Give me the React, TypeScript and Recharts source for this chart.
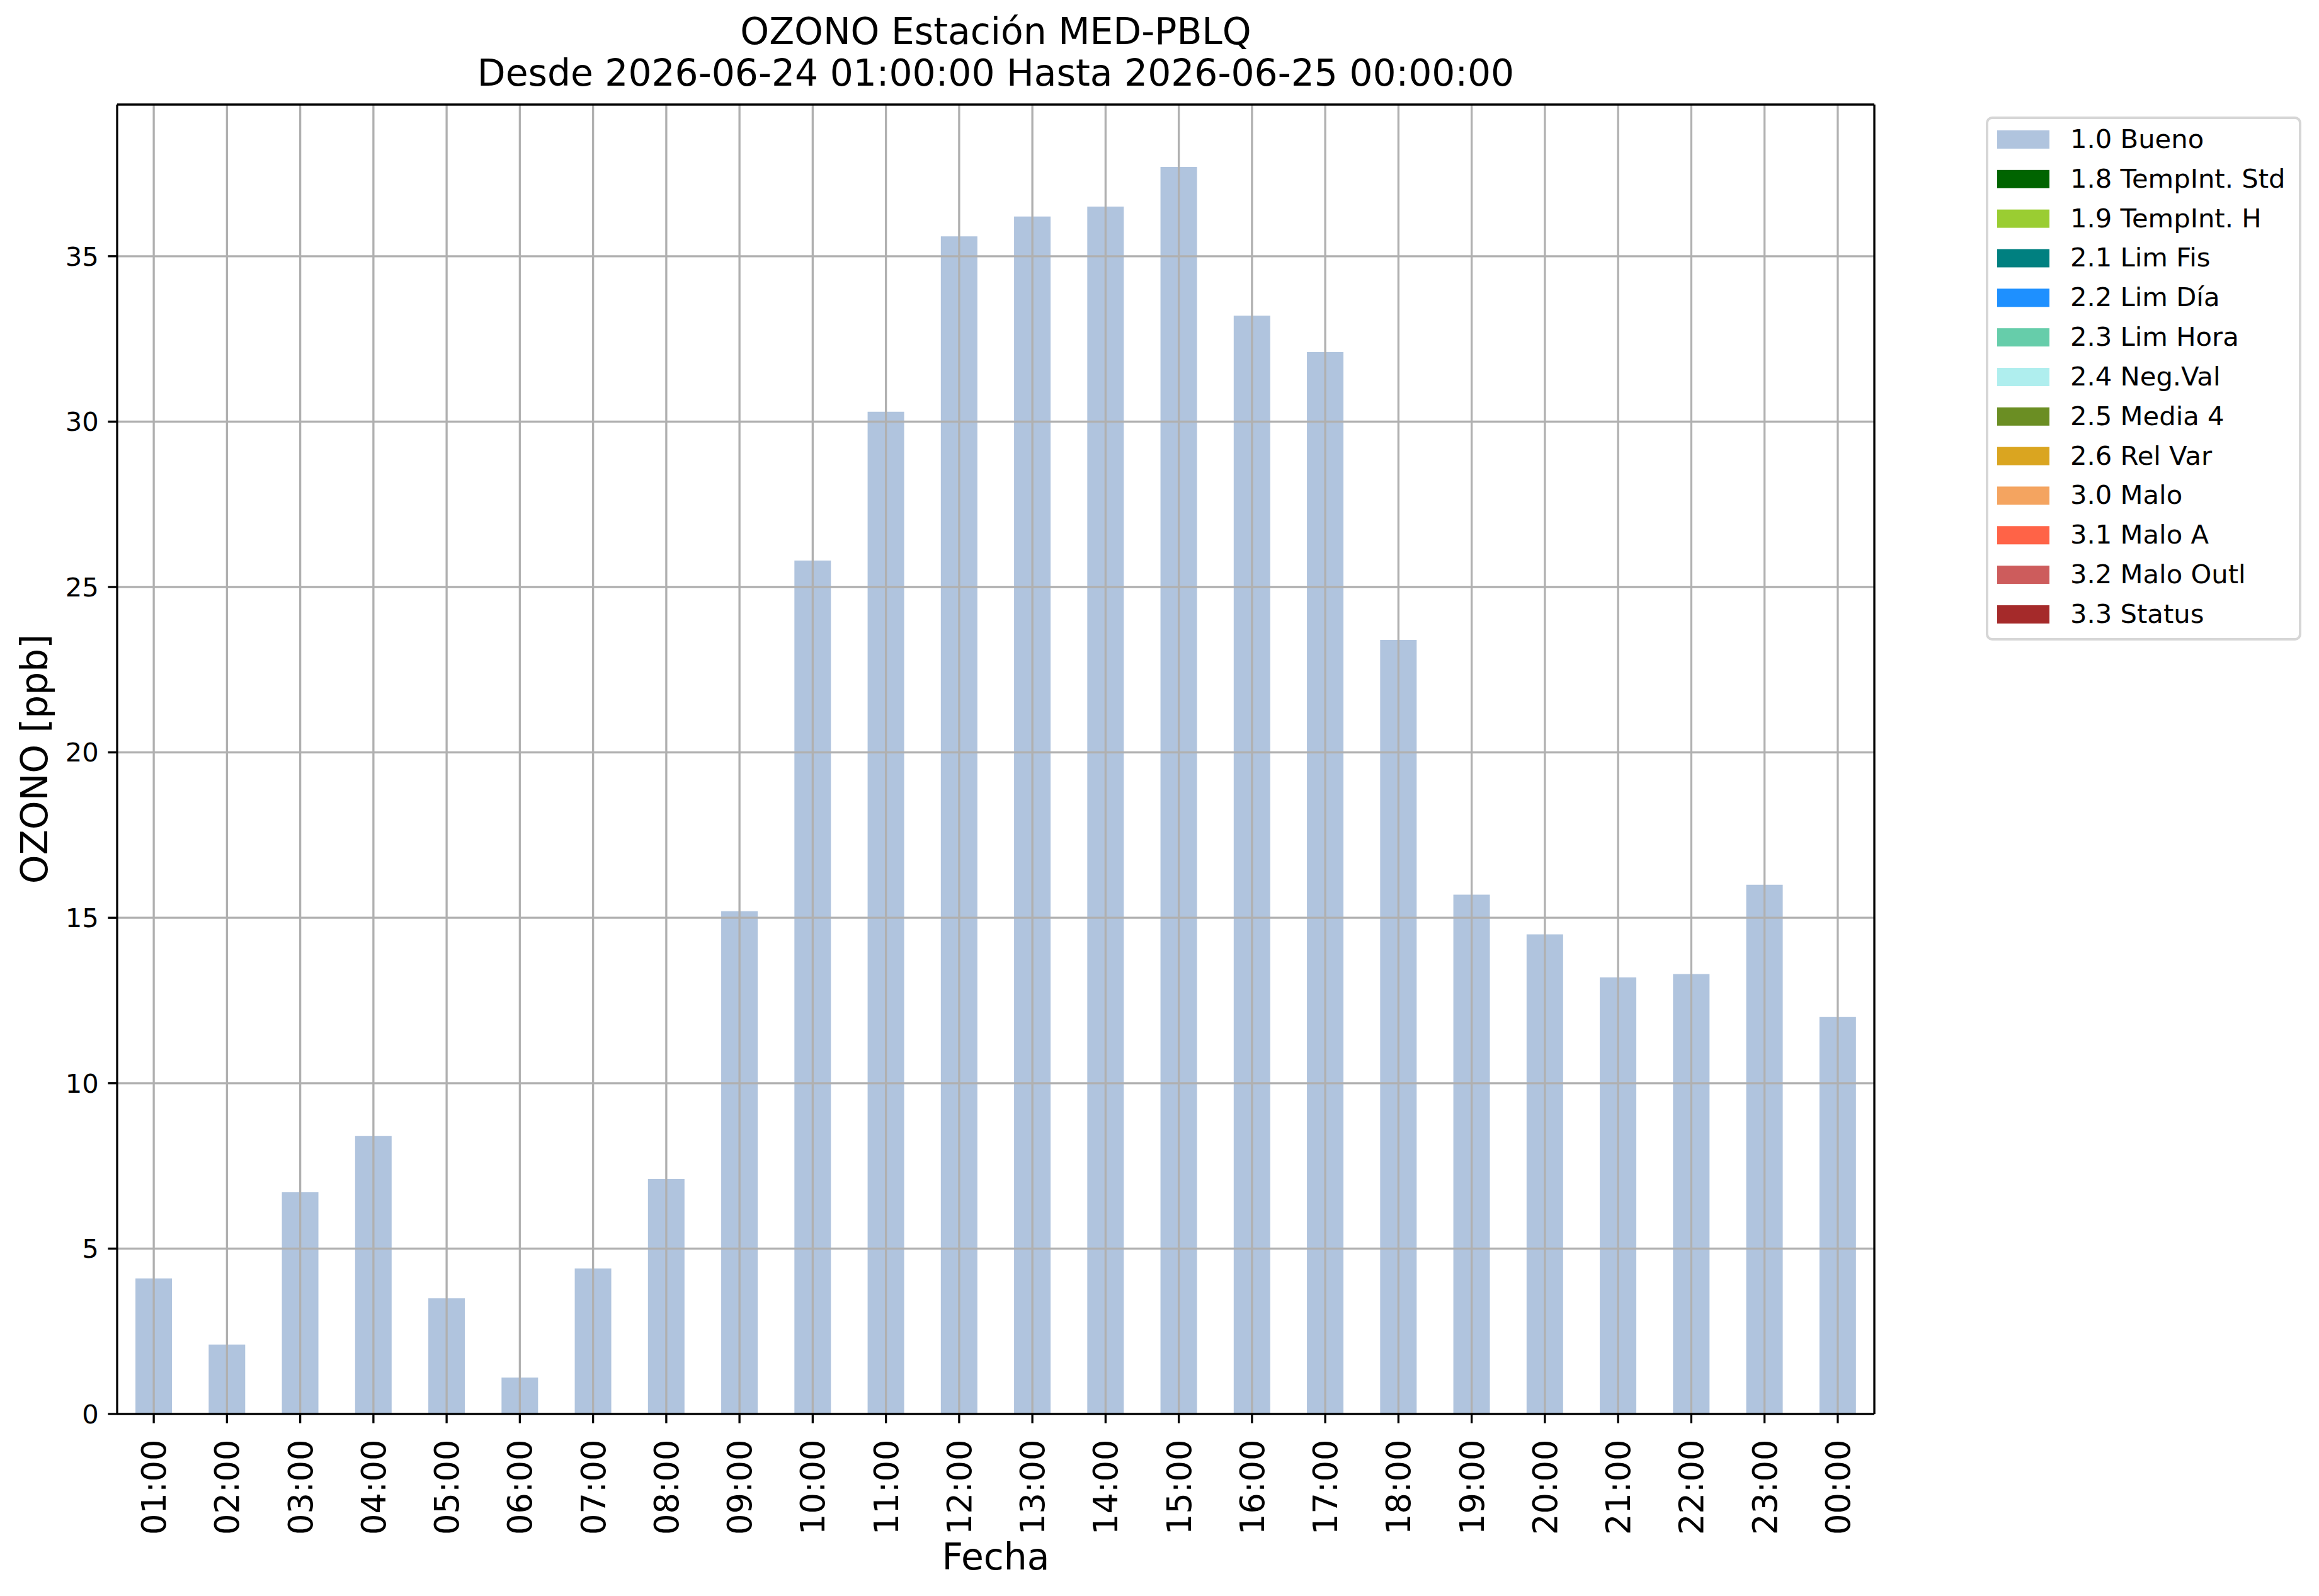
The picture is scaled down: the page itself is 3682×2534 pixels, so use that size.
import React from 'react';
import { BarChart, Bar, XAxis, YAxis, ReferenceLine, Legend, Label } from 'recharts';

// horas del día (eje X)
const horas = [
  '01:00', '02:00', '03:00', '04:00', '05:00', '06:00', '07:00', '08:00',
  '09:00', '10:00', '11:00', '12:00', '13:00', '14:00', '15:00', '16:00',
  '17:00', '18:00', '19:00', '20:00', '21:00', '22:00', '23:00', '00:00',
];

// ozono [ppb] con bandera 1.0 Bueno
const bueno = [
  4.1, 2.1, 6.7, 8.4, 3.5, 1.1, 4.4, 7.1, 15.2, 25.8, 30.3, 35.6,
  36.2, 36.5, 37.7, 33.2, 32.1, 23.4, 15.7, 14.5, 13.2, 13.3, 16.0, 12.0,
];

const banderas = [
  '1.0 Bueno', '1.8 TempInt. Std', '1.9 TempInt. H', '2.1 Lim Fis', '2.2 Lim Día',
  '2.3 Lim Hora', '2.4 Neg.Val', '2.5 Media 4', '2.6 Rel Var', '3.0 Malo',
  '3.1 Malo A', '3.2 Malo Outl', '3.3 Status',
];

const coloresBanderas = [
  '#B0C4DE', '#006400', '#9ACD32', '#008080', '#1E90FF',
  '#66CDAA', '#AFEEEE', '#6B8E23', '#DAA520', '#F4A460',
  '#FF6347', '#CD5C5C', '#A52A2A',
];

const yTicks = [0, 5, 10, 15, 20, 25, 30, 35];
const yMax = 37.7 * 1.05;

const FONT = 'DejaVu Sans';
const LW = 3.33;

const data = horas.map((hora, i) => {
  const row: Record<string, string | number> = { hora };
  banderas.forEach((b, k) => {
    row[b] = k === 0 ? bueno[i] : 0;
  });
  return row;
});

const HoraTick = (props: any) => {
  const { x, y, payload } = props;
  const ty = y + 26;
  return (
    <text
      x={x}
      y={ty}
      dy="0.36em"
      transform={`rotate(-90 ${x} ${ty})`}
      textAnchor="end"
      fill="#000"
      fontSize={52.5}
      fontFamily={FONT}
    >
      {payload.value}
    </text>
  );
};

const Leyenda = (props: any) => {
  const { payload } = props;
  const rowH = 62.83;
  return (
    <svg width={501} height={832} style={{ display: 'block' }}>
      <rect x={2} y={2} width={497} height={828} rx={8} ry={8} fill="#fff" fillOpacity={0.8} stroke="#d6d6d6" strokeWidth={4} />
      {(payload || []).map((p: any, i: number) => (
        <g key={p.value}>
          <rect x={18} y={22 + rowH * i} width={83} height={29} fill={p.color} />
          <text x={134} y={50 + rowH * i} fontSize={41.7} fontFamily={FONT} fill="#000">
            {p.value}
          </text>
        </g>
      ))}
    </svg>
  );
};

const App: React.FC = () => {
  return (
    <div style={{ position: 'absolute', left: 0, top: 0, width: 3682, height: 2534, background: '#fff' }}>
      <div style={{ position: 'absolute', left: 0, top: 0, width: 3682, height: 2534 }}>
        <BarChart
          width={3682}
          height={2534}
          data={data}
          margin={{ top: 165, right: 705, bottom: 0, left: 0 }}
          barCategoryGap="25%"
        >
          <XAxis
            dataKey="hora"
            interval={0}
            height={289}
            tickSize={14.6}
            tickMargin={0}
            axisLine={{ stroke: '#000', strokeWidth: LW }}
            tickLine={{ stroke: '#000', strokeWidth: LW }}
            tick={<HoraTick />}
          >
            <Label
              content={() => (
                <text x={1581} y={2492} textAnchor="middle" fontSize={58.3} fontFamily={FONT} fill="#000">
                  Fecha
                </text>
              )}
            />
          </XAxis>
          <XAxis
            xAxisId="top"
            orientation="top"
            dataKey="hora"
            height={1}
            tick={false}
            tickLine={false}
            axisLine={{ stroke: '#000', strokeWidth: LW }}
          />
          <YAxis
            width={186}
            domain={[0, yMax]}
            ticks={yTicks}
            allowDataOverflow
            tickSize={14.6}
            tickMargin={14.6}
            axisLine={{ stroke: '#000', strokeWidth: LW }}
            tickLine={{ stroke: '#000', strokeWidth: LW }}
            tick={{ fill: '#000', fontSize: 41.7, fontFamily: FONT }}
          >
            <Label
              content={() => (
                <text
                  x={75}
                  y={1205}
                  transform="rotate(-90 75 1205)"
                  textAnchor="middle"
                  fontSize={58.3}
                  fontFamily={FONT}
                  fill="#000"
                >
                  OZONO [ppb]
                </text>
              )}
            />
          </YAxis>
          <YAxis
            yAxisId="right"
            orientation="right"
            width={1}
            domain={[0, yMax]}
            tick={false}
            tickLine={false}
            axisLine={{ stroke: '#000', strokeWidth: LW }}
          />
          {banderas.map((b, k) => (
            <Bar key={b} dataKey={b} name={b} stackId="q" fill={coloresBanderas[k]} isAnimationActive={false} />
          ))}
          {yTicks.slice(1).map((t) => (
            <ReferenceLine key={'y' + t} y={t} stroke="#b0b0b0" strokeWidth={LW} />
          ))}
          {horas.map((h) => (
            <ReferenceLine key={'x' + h} x={h} stroke="#b0b0b0" strokeWidth={LW} />
          ))}
          <Legend
            layout="vertical"
            align="center"
            verticalAlign="middle"
            content={<Leyenda />}
            wrapperStyle={{ left: 3153, top: 185, width: 501, height: 832 }}
          />
        </BarChart>
      </div>
      <div
        style={{
          position: 'absolute',
          left: 0,
          top: 0,
          width: 3162,
          textAlign: 'center',
          fontFamily: FONT,
          fontSize: 58.3,
          lineHeight: '66px',
          color: '#000',
          paddingTop: 17,
        }}
      >
        <div>OZONO Estación MED-PBLQ</div>
        <div>Desde 2026-06-24 01:00:00 Hasta 2026-06-25 00:00:00</div>
      </div>
    </div>
  );
};

export default App;
